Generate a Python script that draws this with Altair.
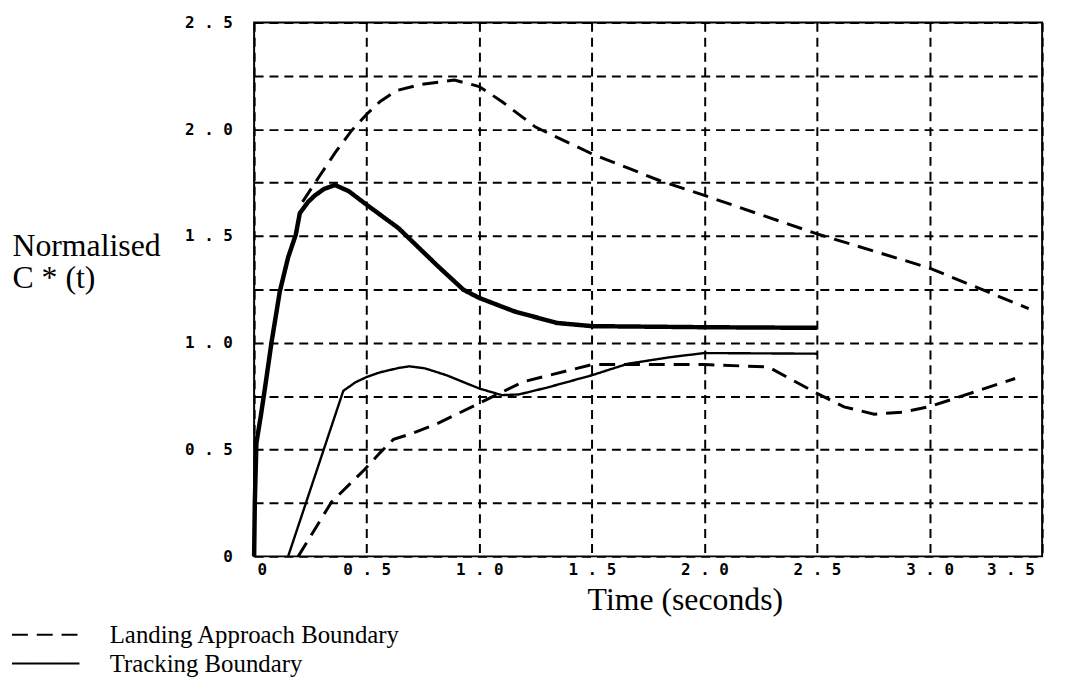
import altair as alt
import pandas as pd

# Landing approach boundary (dashed) - upper
la_up_t = [0.215, 0.29, 0.36, 0.43, 0.5, 0.56, 0.63, 0.74, 0.89, 1.0, 1.1, 1.25, 1.5, 1.8, 2.0, 2.5, 3.0, 3.44]
la_up_c = [1.66, 1.78, 1.89, 1.99, 2.07, 2.13, 2.18, 2.21, 2.23, 2.20, 2.13, 2.01, 1.885, 1.76, 1.69, 1.51, 1.35, 1.16]

# Landing approach boundary (dashed) - lower
la_lo_t = [0.196, 0.344, 0.493, 0.56, 0.619, 0.7, 0.818, 1.0, 1.194, 1.5, 2.0, 2.284, 2.5, 2.62, 2.754, 2.88, 3.0, 3.2, 3.38]
la_lo_c = [0.0, 0.255, 0.409, 0.486, 0.548, 0.575, 0.624, 0.717, 0.817, 0.898, 0.898, 0.887, 0.763, 0.70, 0.666, 0.675, 0.701, 0.77, 0.833]

# Tracking boundary (solid) - upper
tr_up_t = [0.0, 0.003, 0.01, 0.03, 0.047, 0.077, 0.114, 0.151, 0.185, 0.203, 0.24, 0.27, 0.31, 0.359, 0.42, 0.5, 0.641, 0.818, 0.93, 1.0, 1.156, 1.344, 1.5, 2.0, 2.5]
tr_up_c = [0.0, 0.25, 0.53, 0.66, 0.78, 1.0, 1.24, 1.40, 1.506, 1.607, 1.66, 1.69, 1.72, 1.739, 1.71, 1.646, 1.537, 1.357, 1.248, 1.21, 1.147, 1.093, 1.078, 1.073, 1.07]

# Tracking boundary (solid) - lower
tr_lo_t = [0.151, 0.396, 0.45, 0.5, 0.56, 0.641, 0.69, 0.76, 0.855, 1.0, 1.1, 1.175, 1.3, 1.5, 1.66, 1.85, 2.0, 2.5]
tr_lo_c = [0.0, 0.775, 0.815, 0.84, 0.862, 0.882, 0.89, 0.88, 0.848, 0.786, 0.755, 0.758, 0.79, 0.848, 0.902, 0.933, 0.952, 0.949]

kinds = ["Landing Approach Boundary", "Tracking Boundary"]
x_ticks = [0, 0.5, 1.0, 1.5, 2.0, 2.5, 3.0, 3.5]
y_ticks = [0, 0.25, 0.5, 0.75, 1.0, 1.25, 1.5, 1.75, 2.0, 2.25, 2.5]

series = [
    ("la_up", kinds[0], la_up_t, la_up_c),
    ("la_lo", kinds[0], la_lo_t, la_lo_c),
    ("tr_up", kinds[1], tr_up_t, tr_up_c),
    ("tr_lo", kinds[1], tr_lo_t, tr_lo_c),
]
rows = []
for name, kind, ts, cs in series:
    for t, c in zip(ts, cs):
        rows.append({"t": t, "c": c, "series": name, "kind": kind})
df = pd.DataFrame(rows)

label_font = "DejaVu Sans Mono"
serif = "Liberation Serif"

x_axis = alt.Axis(
    values=x_ticks,
    title="Time (seconds)",
    titleFont=serif, titleFontSize=32, titleFontWeight="normal", titleColor="black",
    titleX=434, titleY=54, titleAlign="center", titleBaseline="alphabetic", titleAnchor="start",
    labelExpr="datum.value == 0 ? '0' : replace(format(datum.value, '.1f'), '.', ' . ')",
    labelOffset={"expr": "datum.value == 3.5 ? -8 : (datum.value == 0 ? 3 : 0)"},
    labelFont=label_font, labelFontSize=16, labelFontWeight="bold", labelColor="black",
    labelPadding=5, labelBaseline="top",
    ticks=False, tickSize=0, domain=False,
    grid=True, gridColor="black", gridDash=[9, 6], gridWidth=2, gridOpacity=1,
)
y_axis = alt.Axis(
    values=y_ticks,
    title=["Normalised", "C * (t)"],
    titleFont=serif, titleFontSize=32, titleFontWeight="normal", titleColor="black",
    titleAngle=0, titleX=-244, titleY=210, titleAlign="left", titleBaseline="top",
    titleAnchor="start", titleLineHeight=32,
    labelExpr="abs(datum.value*2 - round(datum.value*2)) > 0.01 ? '' : (datum.value == 0 ? '0' : replace(format(datum.value, '.1f'), '.', ' . '))",
    labelFont=label_font, labelFontSize=16, labelFontWeight="bold", labelColor="black",
    labelPadding=22, labelBaseline="middle",
    ticks=False, tickSize=0, domain=False,
    grid=True, gridColor="black", gridDash=[9, 6], gridWidth=2, gridOpacity=1,
)

legend = alt.Legend(
    title=None, orient="none", legendX=-222.5, legendY=604.5, direction="vertical",
    symbolType="M-4,0H4", symbolSize=289, symbolStrokeWidth=2, symbolStrokeColor="black",
    symbolFillColor="transparent",
    labelFont=serif, labelFontSize=25, labelColor="black", labelOffset=52,
    labelLimit=0, rowPadding=3, padding=0,
)

base = alt.Chart(df).encode(
    x=alt.X("t:Q", scale=alt.Scale(domain=[0, 3.5], nice=False, zero=False), axis=x_axis),
    y=alt.Y("c:Q", scale=alt.Scale(domain=[0, 2.5], nice=False), axis=y_axis),
    strokeDash=alt.StrokeDash("kind:N", scale=alt.Scale(domain=kinds, range=[[16, 9], [1, 0]]), legend=legend),
)

widths = {"la_up": 3, "la_lo": 3, "tr_up": 4.5, "tr_lo": 2.4}
layers = [
    base.transform_filter(alt.datum.series == name).mark_line(color="black", strokeWidth=widths[name])
    for name, _, _, _ in series
]

chart = alt.layer(*layers).properties(
    width=794, height=538,
    autosize=alt.AutoSizeParams(type="none"),
    padding={"left": 248, "top": 12, "right": 18, "bottom": 120},
    background="white",
).configure_view(stroke="black", strokeWidth=2)

chart.save("out.html", embed_options={"renderer": "svg", "actions": False})
